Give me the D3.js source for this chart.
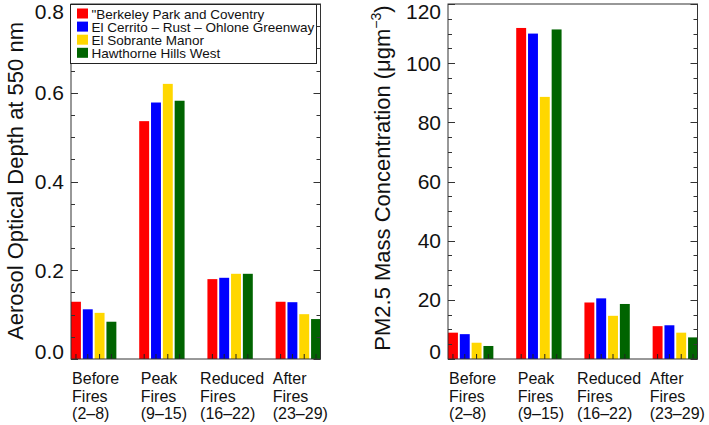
<!DOCTYPE html>
<html>
<head>
<meta charset="utf-8">
<script src="https://cdn.jsdelivr.net/npm/d3@7"></script>
<style>
  html, body { margin: 0; padding: 0; background: #fff; }
  svg { display: block; font-family: "Liberation Sans", Arial, Helvetica, sans-serif; }
</style>
</head>
<body>
<svg id="chart" width="709" height="425"></svg>
<script>
// ---------- data ----------
const categories = [
  ["Before", "Fires", "(2–8)"],
  ["Peak", "Fires", "(9–15)"],
  ["Reduced", "Fires", "(16–22)"],
  ["After", "Fires", "(23–29)"]
];
const seriesNames = [
  "\"Berkeley Park and Coventry",
  "El Cerrito – Rust – Ohlone Greenway",
  "El Sobrante Manor",
  "Hawthorne Hills West"
];
const seriesColors = ["#ff0000", "#0000ff", "#ffd700", "#006400"];

// Aerosol optical depth at 550 nm, one array per site (4 periods)
const aodBerkeley   = [0.129, 0.536, 0.180, 0.129];
const aodElCerrito  = [0.112, 0.578, 0.183, 0.128];
const aodElSobrante = [0.104, 0.620, 0.192, 0.101];
const aodHawthorne  = [0.084, 0.582, 0.192, 0.090];

// PM2.5 mass concentration (µg m-3)
const pmBerkeley   = [8.9, 111.9, 19.1, 11.1];
const pmElCerrito  = [8.4, 110.0, 20.5, 11.4];
const pmElSobrante = [5.5, 88.6, 14.6, 8.9];
const pmHawthorne  = [4.4, 111.4, 18.6, 7.3];

const aodTicks = [0, 0.2, 0.4, 0.6, 0.8];
const aodTickLabels = ["0.0", "0.2", "0.4", "0.6", "0.8"];
const pmTicks = [0, 20, 40, 60, 80, 100, 120];
const pmTickLabels = ["0", "20", "40", "60", "80", "100", "120"];

// ---------- drawing ----------
const svg = d3.select("#chart");
const FS_TICK = 21, FS_CAT = 16, FS_TITLE = 22, FS_LEG = 13.5;
const plotTop = 4, plotBottom = 359;

function panel(opts) {
  const g = svg.append("g");
  const x = d3.scaleBand().domain(d3.range(categories.length))
    .range([opts.x0, opts.x1]).paddingInner(0.335).paddingOuter(0);
  const xs = d3.scaleBand().domain(d3.range(seriesNames.length))
    .range([0, x.bandwidth()]).paddingInner(0.16).paddingOuter(0);
  const y = d3.scaleLinear().domain(opts.domain).range([plotBottom, plotTop]);

  // bars
  opts.series.forEach((vals, si) => {
    g.append("g").selectAll("rect").data(vals).join("rect")
      .attr("x", (d, i) => x(i) + xs(si))
      .attr("width", xs.bandwidth())
      .attr("y", d => y(d))
      .attr("height", d => y(0) - y(d))
      .attr("fill", seriesColors[si]);
  });

  // bottom ticks at bar centers
  const tickPos = [];
  categories.forEach((c, ci) => seriesNames.forEach((s, si) => tickPos.push(x(ci) + xs(si) + xs.bandwidth() / 2)));
  g.append("g").selectAll("line").data(tickPos).join("line")
    .attr("x1", d => d).attr("x2", d => d)
    .attr("y1", plotBottom).attr("y2", plotBottom - 5)
    .attr("stroke", "#222").attr("stroke-width", 1);

  // frame
  const fx0 = opts.x0, fx1 = opts.x1 - 0.5;
  g.append("rect").attr("x", fx0).attr("y", plotTop).attr("width", fx1 - fx0).attr("height", plotBottom - plotTop)
    .attr("fill", "none").attr("stroke", "#333").attr("stroke-width", 1);

  // y ticks major / minor, both sides inward
  const minor = d3.range(opts.domain[0], opts.domain[1] + opts.minorStep / 2, opts.minorStep);
  const tg = g.append("g").attr("stroke", "#333").attr("stroke-width", 1);
  minor.forEach(v => {
    const isMajor = opts.ticks.some(t => Math.abs(t - v) < opts.minorStep / 10);
    const len = isMajor ? 7 : 4;
    const yy = Math.round(y(v)) + 0.5;
    tg.append("line").attr("x1", fx0).attr("x2", fx0 + len).attr("y1", yy).attr("y2", yy);
    tg.append("line").attr("x1", fx1).attr("x2", fx1 - len).attr("y1", yy).attr("y2", yy);
  });

  // y tick labels
  g.append("g").selectAll("text").data(opts.ticks).join("text")
    .attr("x", fx0 - 7)
    .attr("y", (d, i) => {
      const yy = y(d);
      if (i === 0) return yy;
      if (i === opts.ticks.length - 1) return yy + FS_TICK * 0.72;
      return yy + FS_TICK * 0.36;
    })
    .attr("text-anchor", "end").attr("font-size", FS_TICK).attr("fill", "#111")
    .text((d, i) => opts.tickLabels[i]);

  // category labels (left-aligned blocks centered on groups)
  categories.forEach((lines, ci) => {
    const t = g.append("text").attr("font-size", FS_CAT).attr("fill", "#111");
    lines.forEach((ln, li) => t.append("tspan").attr("x", 0).attr("y", 384 + li * 17.5).text(ln));
    const w = t.node().getBBox().width;
    t.attr("transform", `translate(${x(ci) + x.bandwidth() / 2 - w / 2 + 2},0)`);
  });

  // y axis title
  const tt = g.append("text")
    .attr("transform", `translate(${opts.titleX},${opts.titleY}) rotate(-90)`)
    .attr("text-anchor", "middle").attr("font-size", FS_TITLE).attr("fill", "#111");
  opts.title(tt);
  return { g, x, y, fx0, fx1 };
}

const leftPanel = panel({
  x0: 71, x1: 321,
  domain: [0, 0.8], ticks: aodTicks, tickLabels: aodTickLabels, minorStep: 0.05,
  series: [aodBerkeley, aodElCerrito, aodElSobrante, aodHawthorne],
  titleX: 23, titleY: 181,
  title: t => t.text("Aerosol Optical Depth at 550 nm")
});

const rightPanel = panel({
  x0: 448, x1: 698,
  domain: [0, 120], ticks: pmTicks, tickLabels: pmTickLabels, minorStep: 5,
  series: [pmBerkeley, pmElCerrito, pmElSobrante, pmHawthorne],
  titleX: 390, titleY: 178,
  title: t => {
    t.append("tspan").text("PM2.5 Mass Concentration (μgm");
    t.append("tspan").attr("font-size", 14).attr("dy", -9).text("−3");
    t.append("tspan").attr("dy", 9).text(")");
  }
});

// legend (left panel)
const lg = leftPanel.g.append("g");
const lx0 = 70, ly0 = 4, lx1 = 316, ly1 = 63;
lg.append("rect").attr("x", lx0 + 0.5).attr("y", ly0 + 0.5).attr("width", lx1 - lx0).attr("height", ly1 - ly0)
  .attr("fill", "#fff").attr("stroke", "#222").attr("stroke-width", 1);
seriesNames.forEach((name, i) => {
  const cy = 13.5 + i * 13.1;
  lg.append("rect").attr("x", 77).attr("y", cy - 5).attr("width", 11).attr("height", 10).attr("fill", seriesColors[i]);
  lg.append("text").attr("x", 91.5).attr("y", cy + 5).attr("font-size", FS_LEG).attr("fill", "#111").text(name);
});
</script>
</body>
</html>
